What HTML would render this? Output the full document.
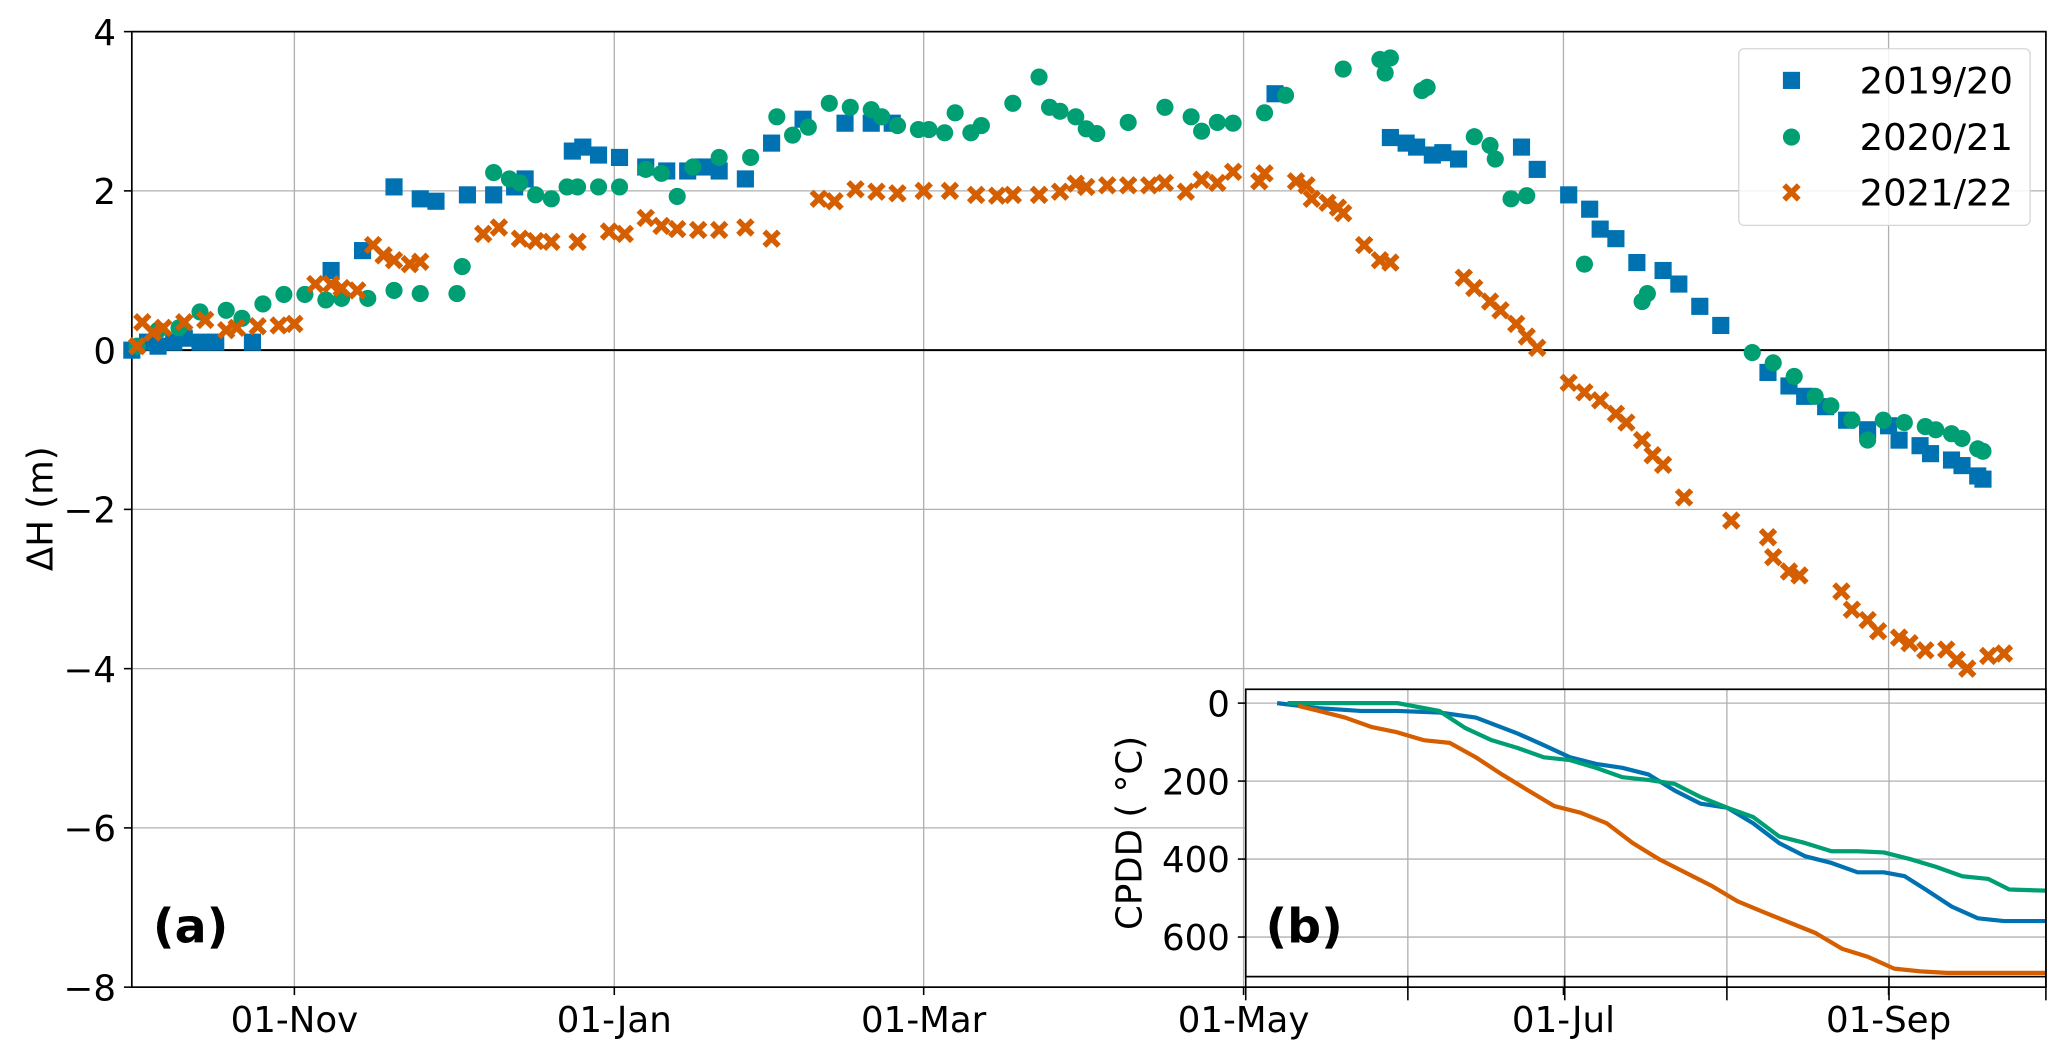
<!DOCTYPE html>
<html><head><meta charset="utf-8"><style>html,body{margin:0;padding:0;background:#fff}svg{display:block}text{font-family:"DejaVu Sans","Liberation Sans",sans-serif}</style></head>
<body>
<svg id="chart" width="2067" height="1057" viewBox="0 0 1568 802" preserveAspectRatio="none" xmlns="http://www.w3.org/2000/svg"></svg>
<script>
const tickDays=[31,92,151,212,273,335];
const tickLabels=["01-Nov","01-Jan","01-Mar","01-May","01-Jul","01-Sep"];
const yTicks=[4,2,0,-2,-4,-6,-8];
const insetYTicks=[0,200,400,600];
const insetXTicks=[212,243,273,304,335,365];
const seriesNames=["2019/20","2020/21","2021/22"];
const d1920=[0,3,5,8,10,13,16,23,38,44,50,55,58,64,69,73,75,84,86,89,93,98,102,106,109,112,117,122,128,136,141,145,218,240,243,245,248,250,253,265,268,274,278,280,283,287,292,295,299,303,312,316,319,323,327,331,335,337,341,343,347,349,352,353];
const v1920=[0,0.1,0.05,0.1,0.15,0.1,0.1,0.1,1.0,1.25,2.05,1.9,1.87,1.95,1.95,2.05,2.15,2.5,2.55,2.45,2.42,2.3,2.25,2.25,2.3,2.25,2.15,2.6,2.9,2.85,2.85,2.85,3.22,2.67,2.6,2.55,2.45,2.48,2.4,2.55,2.27,1.95,1.77,1.52,1.4,1.1,1.0,0.83,0.55,0.31,-0.28,-0.45,-0.58,-0.71,-0.88,-1.0,-0.95,-1.13,-1.2,-1.3,-1.38,-1.45,-1.58,-1.62];
const d2021=[1,5,9,13,18,21,25,29,33,37,40,45,50,55,62,63,69,72,74,77,80,83,85,89,93,98,101,104,107,112,118,123,126,129,133,137,141,143,146,150,152,155,157,160,162,168,173,175,177,180,182,184,190,197,202,204,207,210,216,220,231,238,239,240,246,247,256,259,260,263,266,277,288,289,309,313,317,321,324,328,331,334,338,342,344,347,349,352,353];
const v2021=[0.05,0.25,0.28,0.48,0.5,0.4,0.58,0.7,0.7,0.63,0.65,0.65,0.75,0.71,0.71,1.05,2.23,2.15,2.1,1.95,1.9,2.05,2.05,2.05,2.05,2.27,2.22,1.93,2.3,2.42,2.42,2.93,2.7,2.8,3.1,3.05,3.02,2.93,2.82,2.77,2.77,2.73,2.98,2.73,2.82,3.1,3.43,3.05,3.0,2.93,2.78,2.72,2.86,3.05,2.93,2.75,2.86,2.85,2.98,3.2,3.53,3.65,3.48,3.67,3.26,3.3,2.68,2.57,2.4,1.9,1.94,1.08,0.61,0.71,-0.03,-0.16,-0.33,-0.58,-0.7,-0.88,-1.13,-0.88,-0.91,-0.96,-1.0,-1.05,-1.11,-1.24,-1.27];
const d2122=[1,2,4,6,10,14,18,20,24,28,31,35,38,40,43,46,48,50,53,55,67,70,74,77,80,85,91,94,98,101,104,108,112,117,122,131,134,138,142,146,151,156,161,165,168,173,177,180,182,186,190,194,197,201,204,207,210,215,216,222,224,225,228,230,231,235,238,240,254,256,259,261,264,266,268,274,277,280,283,285,288,290,292,296,305,312,313,316,318,326,328,331,333,337,339,342,346,348,350,354,357];
const v2122=[0.05,0.35,0.22,0.28,0.35,0.38,0.25,0.28,0.3,0.31,0.33,0.83,0.83,0.78,0.75,1.32,1.19,1.13,1.08,1.11,1.46,1.54,1.4,1.37,1.36,1.36,1.49,1.46,1.66,1.56,1.52,1.51,1.51,1.54,1.4,1.9,1.87,2.02,1.99,1.97,2.0,2.0,1.95,1.94,1.95,1.95,1.99,2.09,2.05,2.07,2.07,2.07,2.1,1.99,2.14,2.1,2.24,2.12,2.22,2.12,2.07,1.9,1.85,1.79,1.72,1.32,1.13,1.1,0.91,0.78,0.61,0.5,0.33,0.17,0.03,-0.41,-0.53,-0.63,-0.8,-0.91,-1.13,-1.32,-1.44,-1.85,-2.14,-2.35,-2.6,-2.78,-2.83,-3.03,-3.26,-3.39,-3.53,-3.61,-3.68,-3.77,-3.76,-3.89,-4.0,-3.84,-3.81];
const cBlueD=[218,226,234,241,249,256,264,269,274,279,284,289,294,299,304,309,314,319,324,329,334,338,342,347,352,357,365];
const cBlueV=[0,13,20,20,24,37,78,108,139,156,166,183,224,258,268,308,359,393,410,434,434,444,478,522,552,559,559];
const cGreenD=[220,226,241,249,254,259,264,269,274,279,284,289,294,299,304,309,314,319,324,329,334,339,344,349,354,358,365];
const cGreenV=[0,0,0,20,64,95,115,139,146,166,190,197,207,241,268,292,342,359,380,380,383,400,420,444,451,478,481];
const cOrangeD=[222,226,231,236,241,246,251,256,261,266,271,276,281,286,291,296,301,306,311,316,321,326,331,336,341,346,365];
const cOrangeV=[7,20,37,61,75,95,102,139,183,224,264,281,308,359,400,434,468,508,536,563,590,630,651,681,688,692,692];

const NS="http://www.w3.org/2000/svg";
const svg=document.getElementById('chart');
function mk(tag,attrs,parent){const e=document.createElementNS(NS,tag);for(const k in attrs)e.setAttribute(k,attrs[k]);(parent||svg).appendChild(e);return e;}
const L=100,R=1552,T=24,B=749;
const FS=27;
const xs=d=>L+(d/365)*(R-L);
const ys=v=>T+(4-v)/12*(B-T);
const IL=945,IR=1552,IT=523,IB=741;
const ixs=d=>IL+(d-212)/(365-212)*(IR-IL);
const iys=v=>533.5+v*0.2958;
const COL=["#0072B2","#009E73","#D55E00"];

const grid=mk('g',{});


tickDays.forEach((d,i)=>{
  const l=mk('line',{x1:xs(d),x2:xs(d),y1:T,y2:B,stroke:'#b0b0b0','stroke-width':1},grid);
  
  
  const tk=mk('line',{x1:xs(d),x2:xs(d),y1:B,y2:B+6,stroke:'#000','stroke-width':1.2});
  
  
  const t=mk('text',{x:xs(d),y:783,'text-anchor':'middle','font-size':FS});
  t.textContent=tickLabels[i];
  
  
});
yTicks.forEach(v=>{
  const l=mk('line',{x1:L,x2:R,y1:ys(v),y2:ys(v),stroke:v===0?'#000':'#b0b0b0','stroke-width':v===0?1.5:1},grid);
  
  
  const tk=mk('line',{x1:L-6,x2:L,y1:ys(v),y2:ys(v),stroke:'#000','stroke-width':1.2});
  
  
  const t=mk('text',{x:L-12,y:ys(v)+10,'text-anchor':'end','font-size':FS});
  t.textContent=v<0?'\u2212'+(-v):String(v);
  
  
});
const frame=mk('rect',{x:L,y:T,width:R-L,height:B-T,fill:'none',stroke:'#000','stroke-width':1.3});


const yl=mk('text',{x:40,y:386,'text-anchor':'middle','font-size':FS,transform:'rotate(-90 40 386)'});
yl.textContent='\u0394H (m)';



function marker(kind,x,y,color,parent){
  let e;
  if(kind===0)e=mk('rect',{x:x-6.5,y:y-6.5,width:13,height:13,fill:color},parent);
  else if(kind===1)e=mk('circle',{cx:x,cy:y,r:6.5,fill:color},parent);
  else e=mk('path',{d:`M${x-5.5},${y-5.5}L${x+5.5},${y+5.5}M${x+5.5},${y-5.5}L${x-5.5},${y+5.5}`,stroke:color,'stroke-width':4.2},parent);
  return e;
}
const sets=[[d1920,v1920],[d2021,v2021],[d2122,v2122]];
sets.forEach((s,k)=>{
  const g=mk('g',{});
  
  
  s[0].forEach((d,i)=>{
    const m=marker(k,xs(d),ys(s[1][i]),COL[k],g);
    
    
  });
});
const la=mk('text',{x:116,y:715,'font-size':36,'font-weight':'bold'});
la.textContent='(a)';



const lg=mk('g',{});


mk('rect',{x:1319,y:37,width:221,height:134,rx:4,fill:'#fff','fill-opacity':0.85,stroke:'#d6d6d6','stroke-width':1},lg);
const legY=[61,104,146];
seriesNames.forEach((n,k)=>{
  const yy=legY[k];
  const m=marker(k,1359,yy,COL[k],lg);
  
  
  const t=mk('text',{x:1527,y:yy+10,'text-anchor':'end','font-size':28},lg);
  t.textContent=n;
  
  
});

const ig=mk('g',{});


mk('rect',{x:IL,y:IT,width:IR-IL,height:IB-IT,fill:'#fff'},ig);
insetXTicks.forEach(d=>{
  const l=mk('line',{x1:ixs(d),x2:ixs(d),y1:IT,y2:IB,stroke:'#b0b0b0','stroke-width':1},ig);
  
  
  const tk=mk('line',{x1:ixs(d),x2:ixs(d),y1:IB,y2:IB+18,stroke:'#000','stroke-width':1.2},ig);
  
  
});
insetYTicks.forEach(v=>{
  const l=mk('line',{x1:IL,x2:IR,y1:iys(v),y2:iys(v),stroke:'#b0b0b0','stroke-width':1},ig);
  
  
  const tk=mk('line',{x1:IL-6,x2:IL,y1:iys(v),y2:iys(v),stroke:'#000','stroke-width':1.2},ig);
  
  
  const t=mk('text',{x:IL-12,y:iys(v)+10,'text-anchor':'end','font-size':FS},ig);
  t.textContent=String(v);
  
  
});
[[cBlueD,cBlueV,0],[cGreenD,cGreenV,1],[cOrangeD,cOrangeV,2]].forEach(([D,V,k])=>{
  const p=mk('polyline',{points:D.map((d,i)=>ixs(d)+','+iys(V[i])).join(' '),fill:'none',stroke:COL[k],'stroke-width':3.2,'stroke-linejoin':'round'},ig);
  
  
});
const iframe=mk('rect',{x:IL,y:IT,width:IR-IL,height:IB-IT,fill:'none',stroke:'#000','stroke-width':1.3},ig);


const iyl=mk('text',{x:866,y:632,'text-anchor':'middle','font-size':FS,transform:'rotate(-90 866 632)'},ig);
iyl.textContent='CPDD ( \u00B0C)';


const lb=mk('text',{x:960,y:715,'font-size':36,'font-weight':'bold'},ig);
lb.textContent='(b)';


</script>
</body></html>
